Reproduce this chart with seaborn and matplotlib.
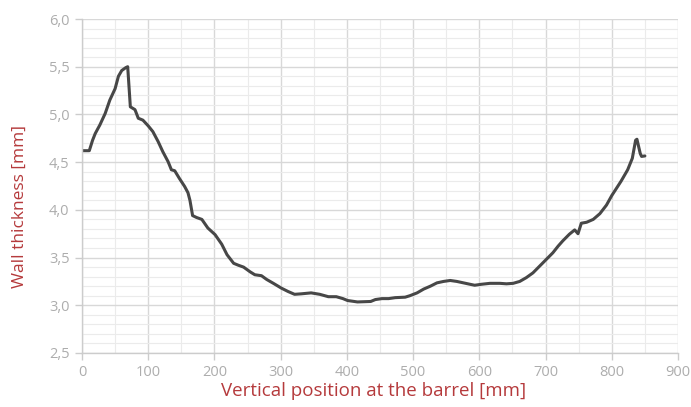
import numpy as np
import pandas as pd
import matplotlib
matplotlib.use("Agg")
import matplotlib.pyplot as plt
import seaborn as sns
from matplotlib.ticker import MultipleLocator, FuncFormatter

position_mm = [0, 11, 16, 20, 27, 35, 42, 50, 55, 60, 66, 69, 73, 80, 85, 92, 100, 107, 115, 122,
               130, 135, 140, 147, 155, 160, 163, 167, 173, 181, 190, 201, 211, 219, 229, 236, 244, 254, 261, 271,
               279, 289, 301, 311, 321, 331, 346, 359, 372, 384, 394, 401, 416, 436, 443, 453, 463, 473, 488, 495,
               506, 516, 526, 536, 546, 556, 566, 576, 586, 593, 603, 616, 631, 641, 651, 661, 671, 681, 691, 701,
               711, 719, 726, 736, 744, 749, 754, 762, 772, 782, 792, 800, 814, 824, 831, 836, 838, 843, 845, 850]
thickness_mm = [4.62, 4.62, 4.73, 4.80, 4.89, 5.01, 5.15, 5.27, 5.40, 5.46, 5.49, 5.50, 5.08, 5.05, 4.96, 4.94, 4.88, 4.82, 4.715, 4.61,
                4.505, 4.42, 4.41, 4.33, 4.245, 4.18, 4.10, 3.94, 3.92, 3.90, 3.81, 3.74, 3.64, 3.53, 3.44, 3.42, 3.40, 3.35, 3.32, 3.31,
                3.27, 3.23, 3.18, 3.145, 3.115, 3.12, 3.13, 3.115, 3.09, 3.09, 3.07, 3.05, 3.035, 3.04, 3.06, 3.07, 3.07, 3.08, 3.085, 3.10,
                3.13, 3.17, 3.20, 3.235, 3.25, 3.26, 3.25, 3.235, 3.22, 3.21, 3.22, 3.23, 3.23, 3.225, 3.23, 3.25, 3.29, 3.34, 3.41, 3.48,
                3.55, 3.62, 3.675, 3.745, 3.79, 3.75, 3.86, 3.87, 3.90, 3.96, 4.05, 4.15, 4.30, 4.42, 4.54, 4.73, 4.74, 4.59, 4.56, 4.565]

x_label = "Vertical position at the barrel [mm]"
y_label = "Wall thickness [mm]"

df = pd.DataFrame({"pos": position_mm, "thk": thickness_mm})

sns.set_style("white")
plt.rcParams['font.family'] = ['Open Sans', 'DejaVu Sans']

fig = plt.figure(figsize=(6.91, 4.07), dpi=100)
ax = fig.add_axes([82/691, 1-353/407, (678-82)/691, (353-19)/407])

sns.lineplot(data=df, x="pos", y="thk", ax=ax, color="#474747", linewidth=2.2, sort=False)

ax.set_xlim(0, 900)
ax.set_ylim(2.5, 6.0)
ax.xaxis.set_major_locator(MultipleLocator(100))
ax.xaxis.set_minor_locator(MultipleLocator(50))
ax.yaxis.set_major_locator(MultipleLocator(0.5))
ax.yaxis.set_minor_locator(MultipleLocator(0.1))
ax.yaxis.set_major_formatter(FuncFormatter(lambda v, p: f"{v:.1f}".replace(".", ",")))

ax.grid(which="major", color="#d8d8d8", linewidth=1.0)
ax.grid(which="minor", color="#ebebeb", linewidth=0.8)
ax.set_axisbelow(True)

for s in ["top", "right"]:
    ax.spines[s].set_visible(False)
for s in ["left", "bottom"]:
    ax.spines[s].set_color("#cccccc")
    ax.spines[s].set_linewidth(1.0)

ax.tick_params(which="major", direction="out", length=5, width=1, color="#cccccc",
               labelcolor="#adadad", labelsize=10.5, pad=4, left=True, bottom=True)
ax.tick_params(which="minor", length=0)

ax.set_xlabel(x_label, color="#b53a3c", fontsize=13.5)
ax.set_ylabel(y_label, color="#b53a3c", fontsize=12.5)
ax.xaxis.set_label_coords((373.5 - 82) / 596, -(382 - 353) / 334)
ax.yaxis.set_label_coords(-(82 - 28) / 596, (353 - 207) / 334)

fig.savefig("out.png", dpi=100)
